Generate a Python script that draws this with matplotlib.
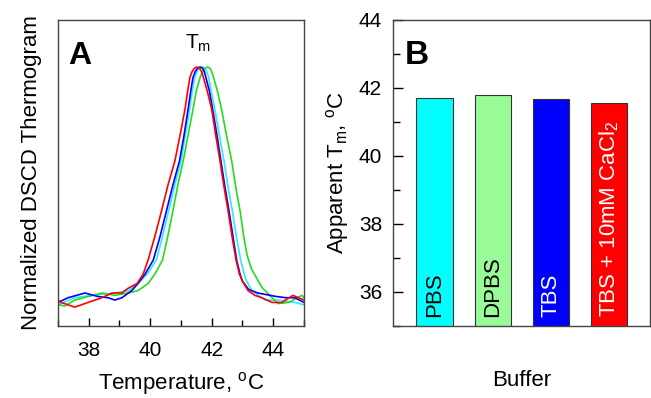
import matplotlib
matplotlib.use("Agg")
import matplotlib.pyplot as plt
from matplotlib.ticker import MultipleLocator

plt.rcParams['font.family'] = ['Liberation Sans', 'DejaVu Sans']
plt.rcParams['mathtext.fontset'] = 'custom'
plt.rcParams['mathtext.rm'] = 'Liberation Sans'

# Panel A: DSCD thermograms (temperature, normalized signal)
red_t = [37.0, 37.1, 37.55, 37.98, 38.43, 38.76, 39.08, 39.28, 39.57, 39.77, 39.93, 40.15, 40.37,
         40.58, 40.80, 40.97, 41.13, 41.22, 41.29, 41.36, 41.44, 41.52, 41.6, 41.67, 41.72, 41.85,
         42.0, 42.13, 42.27, 42.4, 42.53, 42.66, 42.79, 42.9, 43.0, 43.18, 43.4, 43.63,
         43.96, 44.28, 44.64, 45.0]
red_v = [0.01, 0.0, -0.02, 0.0, 0.02, 0.04, 0.04, 0.06, 0.08, 0.12, 0.18, 0.28, 0.39,
         0.50, 0.60, 0.71, 0.82, 0.90, 0.955, 0.98, 0.995, 1.0, 0.995, 0.98, 0.96, 0.90,
         0.82, 0.71, 0.60, 0.49, 0.39, 0.28, 0.18, 0.12, 0.09, 0.05, 0.03, 0.02,
         0.0, 0.0, 0.03, 0.01]

blue_t = [37.0, 37.33, 37.88, 38.3, 38.63, 38.85, 39.08, 39.4, 39.6, 39.83, 40.1, 40.32, 40.53,
          40.74, 40.95, 41.1, 41.23, 41.32, 41.39, 41.46, 41.54, 41.62, 41.7, 41.76, 41.8, 41.92,
          42.03, 42.17, 42.3, 42.43, 42.56, 42.69, 42.81, 42.92, 43.0, 43.2, 43.5,
          44.06, 44.4, 44.7, 45.0]
blue_v = [0.0, 0.02, 0.04, 0.025, 0.02, 0.01, 0.02, 0.05, 0.08, 0.12, 0.18, 0.28, 0.39,
          0.50, 0.60, 0.71, 0.82, 0.90, 0.955, 0.98, 0.995, 1.0, 0.995, 0.98, 0.96, 0.90,
          0.82, 0.71, 0.60, 0.49, 0.39, 0.28, 0.18, 0.12, 0.09, 0.055, 0.04,
          0.026, 0.02, 0.02, 0.0]

cyan_t = [37.0, 37.55, 38.1, 38.85, 39.3, 39.6, 39.9, 40.2, 40.4, 40.6, 40.8, 41.0, 41.14,
          41.28, 41.37, 41.45, 41.52, 41.6, 41.7, 41.78, 41.84, 41.9, 41.98, 42.1, 42.25, 42.4,
          42.53, 42.67, 42.8, 42.94, 43.1, 43.3, 43.73, 44.2, 44.7, 45.0]
cyan_v = [-0.01, 0.02, 0.03, 0.04, 0.05, 0.08, 0.12, 0.18, 0.28, 0.39, 0.50, 0.60, 0.71,
          0.82, 0.90, 0.955, 0.98, 0.995, 1.0, 0.995, 0.98, 0.955, 0.90, 0.82, 0.71, 0.60,
          0.49, 0.39, 0.28, 0.18, 0.10, 0.05, 0.01, 0.01, 0.0, -0.01]

green_t = [37.0, 37.23, 37.55, 37.98, 38.43, 38.85, 39.28, 39.6, 39.93, 40.15, 40.4, 40.57,
           40.74, 40.9, 41.07, 41.23, 41.39, 41.5, 41.62, 41.7, 41.78, 41.86, 41.94, 42.0, 42.06,
           42.18, 42.32, 42.48, 42.65, 42.78, 42.92, 43.04, 43.15, 43.3,
           43.63, 43.96, 44.15, 44.5, 44.93, 45.0]
green_v = [-0.01, -0.015, 0.01, 0.025, 0.04, 0.03, 0.04, 0.05, 0.08, 0.12, 0.18, 0.28,
           0.39, 0.50, 0.60, 0.71, 0.82, 0.90, 0.955, 0.98, 0.995, 1.0, 0.995, 0.98, 0.955,
           0.90, 0.82, 0.71, 0.60, 0.49, 0.39, 0.28, 0.20, 0.14,
           0.064, 0.02, -0.005, 0.0, 0.03, 0.02]

# Panel B: apparent Tm per buffer
buffers = ['PBS', 'DPBS', 'TBS', r'TBS + 10mM CaCl$_\mathregular{2}$']
tm_values = [41.70, 41.80, 41.67, 41.55]
bar_colors = ['#00FFFF', '#98FB98', '#0000FF', '#FF0000']
label_colors = ['black', 'black', 'white', 'white']

fig = plt.figure(figsize=(6.51, 3.98), dpi=100)

# ---- panel A ----
axA = fig.add_axes([0.089, 0.181, 0.378, 0.769])
axA.plot(cyan_t, cyan_v, color='#33E5FF', lw=1.2)
axA.plot(green_t, green_v, color='#22DD22', lw=1.2)
axA.plot(blue_t, blue_v, color='#0000FF', lw=1.2)
axA.plot(red_t, red_v, color='#FF0000', lw=1.2)
axA.set_xlim(37, 45)
axA.set_ylim(-0.1, 1.2)
axA.set_yticks([])
axA.xaxis.set_major_locator(MultipleLocator(2))
axA.xaxis.set_minor_locator(MultipleLocator(1))
axA.tick_params(axis='x', which='major', direction='in', length=6, width=1, labelsize=15, pad=11)
axA.tick_params(axis='x', which='minor', direction='in', length=4, width=1)
axA.set_xlabel(r'Temperature, $^\mathregular{o}$C', fontsize=16)
axA.xaxis.set_label_coords(0.5, -0.145)
axA.set_ylabel('Normalized DSCD Thermogram', fontsize=16, va='center')
axA.yaxis.set_label_coords(-0.106, 0.5)
axA.text(0.04, 0.93, 'A', transform=axA.transAxes, fontsize=23, fontweight='bold', va='top')
axA.text(0.57, 0.96, r'T$_\mathregular{m}$', transform=axA.transAxes, fontsize=15,
         ha='center', va='top')

# ---- panel B ----
axB = fig.add_axes([0.604, 0.181, 0.394, 0.769])
x = [1, 2, 3, 4]
axB.bar(x, tm_values, width=0.62, bottom=0, color=bar_colors, edgecolor='#333333', linewidth=0.8)
axB.set_xlim(0.29, 4.70)
axB.set_ylim(35, 44)
axB.set_xticks([])
axB.yaxis.set_major_locator(MultipleLocator(2))
axB.yaxis.set_minor_locator(MultipleLocator(1))
axB.tick_params(axis='y', which='major', direction='in', length=7, width=1, labelsize=15, pad=8)
axB.tick_params(axis='y', which='minor', direction='in', length=5, width=1)
for xi, name, tc in zip(x, buffers, label_colors):
    axB.text(xi, 35.27, name, rotation=90, ha='center', va='bottom', fontsize=16, color=tc)
axB.set_xlabel('Buffer', fontsize=16)
axB.xaxis.set_label_coords(0.5, -0.145)
axB.set_ylabel(r'Apparent T$_\mathregular{m}$, $^\mathregular{o}$C', fontsize=16, va='center')
axB.yaxis.set_label_coords(-0.218, 0.5)
axB.text(0.045, 0.935, 'B', transform=axB.transAxes, fontsize=24, fontweight='bold', va='top')

for ax in (axA, axB):
    for s in ax.spines.values():
        s.set_color('#444444')
        s.set_linewidth(1.0)

fig.savefig('out.png', dpi=100)
